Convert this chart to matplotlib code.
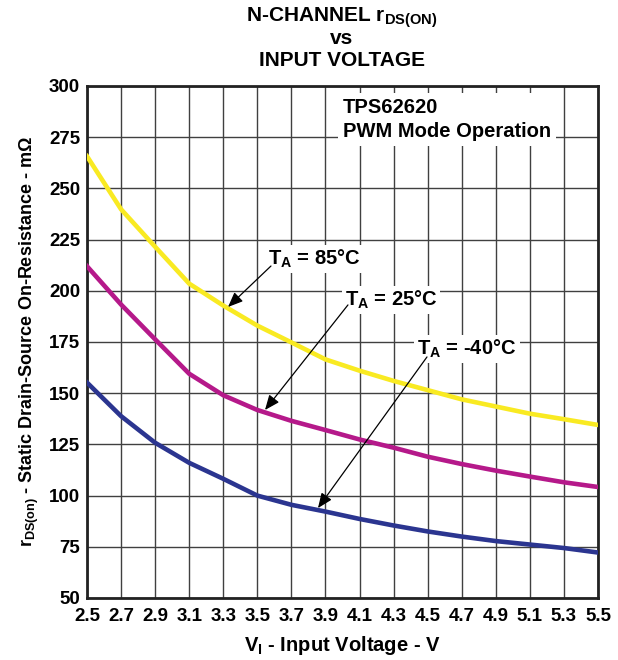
import matplotlib
matplotlib.use("Agg")
import matplotlib.pyplot as plt
import numpy as np

plt.rcParams['font.family'] = ['Liberation Sans', 'DejaVu Sans']
plt.rcParams['font.weight'] = 'bold'
plt.rcParams['axes.labelweight'] = 'bold'
plt.rcParams['mathtext.fontset'] = 'custom'
plt.rcParams['mathtext.rm'] = 'Liberation Sans:bold'
plt.rcParams['mathtext.it'] = 'Liberation Sans:bold'
plt.rcParams['mathtext.bf'] = 'Liberation Sans:bold'

# 입력 전압 (V)
v_in = [2.5, 2.7, 2.9, 3.1, 3.3, 3.5, 3.7, 3.9, 4.1, 4.3, 4.5, 4.7, 4.9, 5.1, 5.3, 5.5]
# rDS(on) (mOhm) 온도별
r_85 = [265.7, 239.8, 221.5, 203.5, 192.8, 183.0, 174.8, 166.5, 161.0, 156.0, 151.5, 147.0, 143.5, 140.0, 137.3, 134.5]
r_25 = [212.0, 193.3, 176.3, 159.5, 149.0, 141.8, 136.5, 132.0, 127.4, 123.4, 119.0, 115.4, 112.2, 109.3, 106.5, 104.2]
r_m40 = [155.2, 138.8, 125.8, 116.0, 108.2, 100.0, 95.5, 92.2, 88.6, 85.4, 82.5, 80.0, 77.8, 76.1, 74.4, 72.2]

x_ticks = np.round(np.arange(2.5, 5.51, 0.2), 1)
y_ticks = np.arange(50, 301, 25)

fig = plt.figure(figsize=(6.18, 6.60), dpi=100)
ax = fig.add_axes([87/618, 62/660, 511/618, 512/660])

ax.set_xlim(2.5, 5.5)
ax.set_ylim(50, 300)
ax.set_xticks(x_ticks)
ax.set_xticklabels([f"{t:.1f}" for t in x_ticks])
ax.set_yticks(y_ticks)
ax.tick_params(length=0, labelsize=13.5)
ax.tick_params(axis='x', pad=7)
ax.tick_params(axis='y', pad=5)
ax.grid(True, color='#404040', lw=1.0)
ax.set_axisbelow(True)
for s in ax.spines.values():
    s.set_linewidth(2.0)
    s.set_color('#222222')

ax.plot(v_in, r_85, color='#F9EA22', lw=3.3, zorder=3)
ax.plot(v_in, r_25, color='#B5198A', lw=3.3, zorder=3)
ax.plot(v_in, r_m40, color='#2B3590', lw=3.3, zorder=3)

box = dict(boxstyle='square,pad=0.15', fc='white', ec='none')
arr = dict(arrowstyle='-|>,head_length=0.6,head_width=0.25', color='black', lw=0.9,
           mutation_scale=15, shrinkA=0, shrinkB=0)

# 라벨 + 화살표
ax.text(3.833, 215.5, r'T$_A$ = 85°C', fontsize=14.5, ha='center', va='center', bbox=box, zorder=5)
ax.annotate('', xy=(3.328, 192.1), xytext=(3.58, 212.1), arrowprops=arr, zorder=6)

ax.text(4.285, 195.5, r'T$_A$ = 25°C', fontsize=14.5, ha='center', va='center', bbox=box, zorder=5)
ax.annotate('', xy=(3.545, 141.8), xytext=(4.032, 193.1), arrowprops=arr, zorder=6)

ax.text(4.731, 171.6, r'T$_A$ = -40°C', fontsize=14.5, ha='center', va='center', bbox=box, zorder=5)
ax.annotate('', xy=(3.856, 93.9), xytext=(4.496, 167.7), arrowprops=arr, zorder=6)

ax.text(4.003, 294.0, 'TPS62620\nPWM Mode Operation', fontsize=14.5, ha='left', va='top',
        linespacing=1.3, bbox=dict(boxstyle='square,pad=0.25', fc='white', ec='none'), zorder=5)

# 제목
fig.text(342/618, 1 - 18/660, r'N-CHANNEL r$_{DS(ON)}$', fontsize=15, ha='center', va='center')
fig.text(342/618, 1 - 38/660, 'vs', fontsize=15, ha='center', va='center')
fig.text(342/618, 1 - 60/660, 'INPUT VOLTAGE', fontsize=15, ha='center', va='center')

ax.set_xlabel(r'V$_I$ - Input Voltage - V', fontsize=14.5, labelpad=7)
ax.set_ylabel(r'r$_{DS(on)}$ - Static Drain-Source On-Resistance - m$\Omega$', fontsize=13, labelpad=6)

fig.savefig('out.png', dpi=100)
